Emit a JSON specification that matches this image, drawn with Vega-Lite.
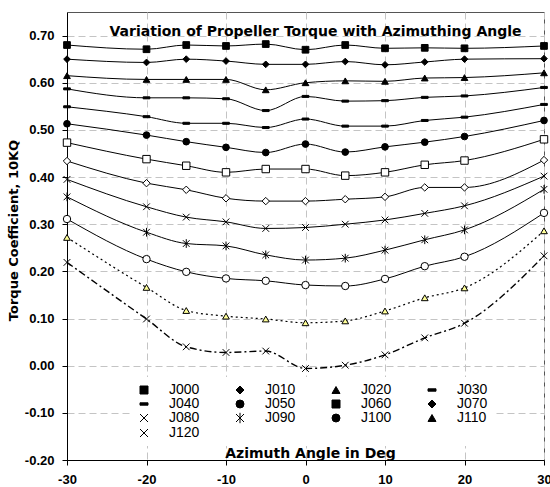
{
  "$schema": "https://vega.github.io/schema/vega-lite/v6.json",
  "width": 477,
  "height": 448,
  "autosize": "none",
  "padding": {"left": 67, "top": 12, "right": 6, "bottom": 27},
  "background": "white",
  "config": {
    "view": {"stroke": "#555555", "strokeWidth": 1},
    "font": "Liberation Sans"
  },
  "title": {
    "text": "Variation of Propeller Torque with Azimuthing Angle",
    "font": "DejaVu Sans",
    "fontSize": 14,
    "fontWeight": "bold",
    "color": "black",
    "anchor": "middle",
    "baseline": "alphabetic",
    "offset": -38,
    "dx": 10
  },
  "data": {
    "values": [
      {"s": "J000", "x": -30, "y": 0.680}, {"s": "J000", "x": -20, "y": 0.671}, {"s": "J000", "x": -15, "y": 0.680}, {"s": "J000", "x": -10, "y": 0.678}, {"s": "J000", "x": -5, "y": 0.682}, {"s": "J000", "x": 0, "y": 0.670}, {"s": "J000", "x": 5, "y": 0.680}, {"s": "J000", "x": 10, "y": 0.673}, {"s": "J000", "x": 15, "y": 0.674}, {"s": "J000", "x": 20, "y": 0.673}, {"s": "J000", "x": 30, "y": 0.678},
      {"s": "J010", "x": -30, "y": 0.650}, {"s": "J010", "x": -20, "y": 0.643}, {"s": "J010", "x": -15, "y": 0.650}, {"s": "J010", "x": -10, "y": 0.646}, {"s": "J010", "x": -5, "y": 0.639}, {"s": "J010", "x": 0, "y": 0.639}, {"s": "J010", "x": 5, "y": 0.645}, {"s": "J010", "x": 10, "y": 0.638}, {"s": "J010", "x": 15, "y": 0.644}, {"s": "J010", "x": 20, "y": 0.650}, {"s": "J010", "x": 30, "y": 0.651},
      {"s": "J020", "x": -30, "y": 0.615}, {"s": "J020", "x": -20, "y": 0.607}, {"s": "J020", "x": -15, "y": 0.607}, {"s": "J020", "x": -10, "y": 0.607}, {"s": "J020", "x": -5, "y": 0.585}, {"s": "J020", "x": 0, "y": 0.600}, {"s": "J020", "x": 5, "y": 0.604}, {"s": "J020", "x": 10, "y": 0.603}, {"s": "J020", "x": 15, "y": 0.610}, {"s": "J020", "x": 20, "y": 0.611}, {"s": "J020", "x": 30, "y": 0.621},
      {"s": "J030", "x": -30, "y": 0.587}, {"s": "J030", "x": -20, "y": 0.568}, {"s": "J030", "x": -15, "y": 0.568}, {"s": "J030", "x": -10, "y": 0.566}, {"s": "J030", "x": -5, "y": 0.541}, {"s": "J030", "x": 0, "y": 0.571}, {"s": "J030", "x": 5, "y": 0.561}, {"s": "J030", "x": 10, "y": 0.562}, {"s": "J030", "x": 15, "y": 0.569}, {"s": "J030", "x": 20, "y": 0.572}, {"s": "J030", "x": 30, "y": 0.590},
      {"s": "J040", "x": -30, "y": 0.549}, {"s": "J040", "x": -20, "y": 0.528}, {"s": "J040", "x": -15, "y": 0.514}, {"s": "J040", "x": -10, "y": 0.514}, {"s": "J040", "x": -5, "y": 0.505}, {"s": "J040", "x": 0, "y": 0.523}, {"s": "J040", "x": 5, "y": 0.508}, {"s": "J040", "x": 10, "y": 0.508}, {"s": "J040", "x": 15, "y": 0.520}, {"s": "J040", "x": 20, "y": 0.527}, {"s": "J040", "x": 30, "y": 0.554},
      {"s": "J050", "x": -30, "y": 0.513}, {"s": "J050", "x": -20, "y": 0.489}, {"s": "J050", "x": -15, "y": 0.475}, {"s": "J050", "x": -10, "y": 0.463}, {"s": "J050", "x": -5, "y": 0.452}, {"s": "J050", "x": 0, "y": 0.470}, {"s": "J050", "x": 5, "y": 0.453}, {"s": "J050", "x": 10, "y": 0.464}, {"s": "J050", "x": 15, "y": 0.474}, {"s": "J050", "x": 20, "y": 0.486}, {"s": "J050", "x": 30, "y": 0.520},
      {"s": "J060", "x": -30, "y": 0.473}, {"s": "J060", "x": -20, "y": 0.438}, {"s": "J060", "x": -15, "y": 0.424}, {"s": "J060", "x": -10, "y": 0.410}, {"s": "J060", "x": -5, "y": 0.417}, {"s": "J060", "x": 0, "y": 0.417}, {"s": "J060", "x": 5, "y": 0.403}, {"s": "J060", "x": 10, "y": 0.410}, {"s": "J060", "x": 15, "y": 0.426}, {"s": "J060", "x": 20, "y": 0.435}, {"s": "J060", "x": 30, "y": 0.480},
      {"s": "J070", "x": -30, "y": 0.434}, {"s": "J070", "x": -20, "y": 0.387}, {"s": "J070", "x": -15, "y": 0.373}, {"s": "J070", "x": -10, "y": 0.355}, {"s": "J070", "x": -5, "y": 0.349}, {"s": "J070", "x": 0, "y": 0.349}, {"s": "J070", "x": 5, "y": 0.353}, {"s": "J070", "x": 10, "y": 0.358}, {"s": "J070", "x": 15, "y": 0.378}, {"s": "J070", "x": 20, "y": 0.378}, {"s": "J070", "x": 30, "y": 0.436},
      {"s": "J080", "x": -30, "y": 0.395}, {"s": "J080", "x": -20, "y": 0.337}, {"s": "J080", "x": -15, "y": 0.315}, {"s": "J080", "x": -10, "y": 0.305}, {"s": "J080", "x": -5, "y": 0.291}, {"s": "J080", "x": 0, "y": 0.293}, {"s": "J080", "x": 5, "y": 0.300}, {"s": "J080", "x": 10, "y": 0.309}, {"s": "J080", "x": 15, "y": 0.323}, {"s": "J080", "x": 20, "y": 0.339}, {"s": "J080", "x": 30, "y": 0.402},
      {"s": "J090", "x": -30, "y": 0.358}, {"s": "J090", "x": -20, "y": 0.283}, {"s": "J090", "x": -15, "y": 0.259}, {"s": "J090", "x": -10, "y": 0.254}, {"s": "J090", "x": -5, "y": 0.235}, {"s": "J090", "x": 0, "y": 0.224}, {"s": "J090", "x": 5, "y": 0.228}, {"s": "J090", "x": 10, "y": 0.245}, {"s": "J090", "x": 15, "y": 0.267}, {"s": "J090", "x": 20, "y": 0.288}, {"s": "J090", "x": 30, "y": 0.374},
      {"s": "J100", "x": -30, "y": 0.311}, {"s": "J100", "x": -20, "y": 0.226}, {"s": "J100", "x": -15, "y": 0.199}, {"s": "J100", "x": -10, "y": 0.185}, {"s": "J100", "x": -5, "y": 0.180}, {"s": "J100", "x": 0, "y": 0.171}, {"s": "J100", "x": 5, "y": 0.169}, {"s": "J100", "x": 10, "y": 0.184}, {"s": "J100", "x": 15, "y": 0.211}, {"s": "J100", "x": 20, "y": 0.231}, {"s": "J100", "x": 30, "y": 0.324},
      {"s": "J110", "x": -30, "y": 0.272}, {"s": "J110", "x": -20, "y": 0.166}, {"s": "J110", "x": -15, "y": 0.117}, {"s": "J110", "x": -10, "y": 0.105}, {"s": "J110", "x": -5, "y": 0.099}, {"s": "J110", "x": 0, "y": 0.091}, {"s": "J110", "x": 5, "y": 0.095}, {"s": "J110", "x": 10, "y": 0.116}, {"s": "J110", "x": 15, "y": 0.144}, {"s": "J110", "x": 20, "y": 0.165}, {"s": "J110", "x": 30, "y": 0.286},
      {"s": "J120", "x": -30, "y": 0.219}, {"s": "J120", "x": -20, "y": 0.099}, {"s": "J120", "x": -15, "y": 0.040}, {"s": "J120", "x": -10, "y": 0.028}, {"s": "J120", "x": -5, "y": 0.031}, {"s": "J120", "x": 0, "y": -0.006}, {"s": "J120", "x": 5, "y": 0.001}, {"s": "J120", "x": 10, "y": 0.023}, {"s": "J120", "x": 15, "y": 0.059}, {"s": "J120", "x": 20, "y": 0.090}, {"s": "J120", "x": 30, "y": 0.233}
    ]
  },
  "encoding": {
    "x": {
      "field": "x",
      "type": "quantitative",
      "scale": {"domain": [-30, 30], "nice": false, "zero": false},
      "axis": {
        "values": [-30, -20, -10, 0, 10, 20, 30],
        "labelExpr": "replace(datum.label, '\u2212', '-')",
        "title": "Azimuth Angle in Deg",
        "titleFont": "DejaVu Sans",
        "titleFontSize": 14,
        "titleFontWeight": "bold",
        "titleColor": "black",
        "titleX": 243,
        "titleY": -3,
        "titleBaseline": "alphabetic",
        "titleAnchor": "middle",
        "labelFont": "Liberation Sans",
        "labelFontSize": 13,
        "labelFontWeight": "bold",
        "labelColor": "black",
        "labelPadding": 8,
        "labelFlush": false,
        "labelOverlap": false,
        "tickSize": 5,
        "tickColor": "black",
        "domainColor": "black",
        "grid": true,
        "gridColor": "#c4c4c4",
        "gridDash": [7, 4]
      }
    },
    "y": {
      "field": "y",
      "type": "quantitative",
      "scale": {"domain": [-0.2, 0.75], "nice": false, "zero": false},
      "axis": {
        "values": [-0.2, -0.1, 0, 0.1, 0.2, 0.3, 0.4, 0.5, 0.6, 0.7],
        "format": ".2f",
        "labelExpr": "replace(datum.label, '\u2212', '-')",
        "title": "Torque Coefficient, 10KQ",
        "titleFont": "DejaVu Sans",
        "titleFontSize": 13,
        "titleFontWeight": "bold",
        "titleColor": "black",
        "titleX": -50,
        "titleY": 218,
        "titleAngle": -90,
        "titleAlign": "center",
        "titleBaseline": "alphabetic",
        "labelFont": "Liberation Sans",
        "labelFontSize": 13,
        "labelFontWeight": "bold",
        "labelColor": "black",
        "labelPadding": 8,
        "tickSize": 5,
        "tickColor": "black",
        "domainColor": "black",
        "grid": true,
        "gridColor": "#c4c4c4",
        "gridDash": [7, 4]
      }
    }
  },
  "layer": [
    {
      "transform": [{"filter": "datum.s != 'J110' && datum.s != 'J120'"}],
      "mark": {"type": "line", "interpolate": "monotone", "color": "black", "strokeWidth": 1},
      "encoding": {"detail": {"field": "s", "type": "nominal"}}
    },
    {
      "transform": [{"filter": "datum.s == 'J110'"}],
      "mark": {"type": "line", "interpolate": "monotone", "color": "black", "strokeWidth": 1.2, "strokeDash": [2, 3]},
      "encoding": {"detail": {"field": "s", "type": "nominal"}}
    },
    {
      "transform": [{"filter": "datum.s == 'J120'"}],
      "mark": {"type": "line", "interpolate": "monotone", "color": "black", "strokeWidth": 1.4, "strokeDash": [7, 3, 2, 3]},
      "encoding": {"detail": {"field": "s", "type": "nominal"}}
    },
    {
      "transform": [{"filter": "indexof(['J060','J070','J100','J110'], datum.s) < 0"}],
      "mark": {"type": "point", "filled": true, "fill": "black", "stroke": "black", "strokeWidth": 1, "size": 45, "opacity": 1},
      "encoding": {
        "shape": {
          "field": "s",
          "type": "nominal",
          "scale": {
            "domain": ["J000", "J010", "J020", "J030", "J040", "J050", "J060", "J070", "J080", "J090", "J100", "J110", "J120"],
            "range": ["square", "diamond", "triangle-up", "M-1,-0.3H1V0.3H-1Z", "M-1,-0.3H1V0.3H-1Z", "circle", "square", "diamond", "M-1,-1L1,1M-1,1L1,-1", "M-1,-1L1,1M-1,1L1,-1M0,-1.3V1.3", "circle", "triangle-up", "M-1,-1L1,1M-1,1L1,-1"]
          },
          "legend": {
            "title": null,
            "orient": "none",
            "legendX": 64,
            "legendY": 365,
            "direction": "horizontal",
            "columns": 4,
            "symbolSize": 64,
            "symbolStrokeWidth": 1,
            "labelFont": "Liberation Sans",
            "labelFontSize": 14,
            "labelColor": "black",
            "labelOffset": 18,
            "columnPadding": 33,
            "rowPadding": -1.4,
            "fillColor": "white",
            "padding": 6
          }
        }
      }
    },
    {
      "transform": [{"filter": "indexof(['J060','J070','J100'], datum.s) >= 0"}],
      "mark": {"type": "point", "filled": true, "fill": "white", "stroke": "black", "strokeWidth": 1, "size": 55, "opacity": 1},
      "encoding": {
        "shape": {"field": "s", "type": "nominal"}
      }
    },
    {
      "transform": [{"filter": "datum.s == 'J110'"}],
      "mark": {"type": "point", "filled": true, "fill": "#ffff99", "stroke": "black", "strokeWidth": 1, "size": 45, "opacity": 1},
      "encoding": {
        "shape": {"field": "s", "type": "nominal"}
      }
    }
  ]
}
